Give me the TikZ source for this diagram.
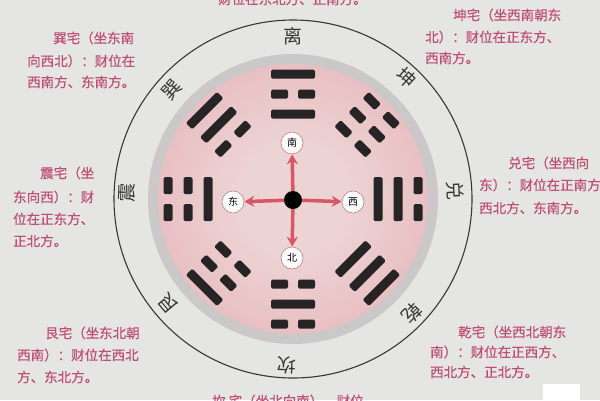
\documentclass[tikz,border=0pt]{standalone}
\usepackage{fontspec}
\newfontfamily\cjk{Noto Sans CJK SC}
\newfontfamily\cjkm[FakeBold=0.35]{Noto Sans CJK SC}
\usetikzlibrary{arrows.meta}
\definecolor{bgcol}{RGB}{229,229,227}
\definecolor{anncol}{RGB}{190,78,118}
\definecolor{ringgray}{RGB}{202,200,200}
\definecolor{pinkin}{RGB}{237,212,212}
\definecolor{pinkmid}{RGB}{230,182,187}
\definecolor{pinkout}{RGB}{222,152,162}
\definecolor{arrowcol}{RGB}{214,88,100}
\definecolor{barcol}{RGB}{38,36,36}
\definecolor{linecol}{RGB}{55,55,55}
\definecolor{dircirc}{RGB}{195,125,125}
\pgfdeclareradialshading{pinkdisk}{\pgfpoint{0bp}{0bp}}{color(0bp)=(pinkin); color(10bp)=(pinkin); color(32bp)=(pinkmid); color(50bp)=(pinkout)}
\newcommand{\mybar}[2]{%
  \ifnum#2=1
    \fill[barcol,rounded corners=1.5pt] (#1-4.5,-22) rectangle (#1+4.5,22);
  \else
    \fill[barcol,rounded corners=1.5pt] (#1-4.5,-22) rectangle (#1+4.5,-5);
    \fill[barcol,rounded corners=1.5pt] (#1-4.5,5) rectangle (#1+4.5,22);
  \fi}
\newcommand{\mytrigram}[4]{%
  \begin{scope}[shift={(293,199)},rotate=#1]
    \mybar{85}{#2}\mybar{105}{#3}\mybar{125}{#4}
  \end{scope}}
\tikzset{
  ann/.style={anchor=west,inner sep=0pt,text=anncol,font=\cjkm\fontsize{13.5}{16}\selectfont},
  gua/.style={inner sep=0pt,text=linecol,font=\cjk\fontsize{19}{22}\selectfont},
  dirnode/.style={circle,draw=dircirc,line width=0.6pt,fill=white,minimum size=22pt,inner sep=0pt,font=\cjk\fontsize{10}{12}\selectfont},
  hub/.style={circle,fill=black,minimum size=18pt,inner sep=0pt},
  arr/.style={draw=arrowcol,line width=3.5pt,-{Stealth[length=10pt,width=11pt]}}
}
\begin{document}
\begin{tikzpicture}[x=1pt,y=-1pt]
\useasboundingbox (0,0) rectangle (600,400);
\fill[bgcol] (0,0) rectangle (600,400);
\fill[white] (543,384) rectangle (580,400);
\coordinate (C) at (293,199);
% outer circle
\draw[linecol,line width=1.1pt] (C) circle[radius=179pt];
% grey ring and pink disk
\fill[ringgray] (C) circle[radius=145pt];
\shade[shading=pinkdisk] (C) circle[radius=135pt];
% trigrams (inner, middle, outer; 1 = solid)
\mytrigram{90}{1}{0}{1}
\mytrigram{45}{0}{0}{0}
\mytrigram{0}{1}{1}{0}
\mytrigram{-45}{1}{1}{1}
\mytrigram{-90}{0}{1}{0}
\mytrigram{-135}{0}{0}{1}
\mytrigram{180}{1}{0}{0}
\mytrigram{135}{0}{1}{1}
% compass
\node[hub] (ctr) at (293,200) {};
\node[dirnode] (nS) at (292,143) {南};
\node[dirnode] (nE) at (233,202) {东};
\node[dirnode] (nW) at (353,202) {西};
\node[dirnode] (nN) at (292,258) {北};
\draw[arr] (ctr) -- (nS);
\draw[arr] (ctr) -- (nE);
\draw[arr] (ctr) -- (nW);
\draw[arr] (ctr) -- (nN);
% ring labels
\path (C) ++(90:163pt) node[gua,rotate=0] (gLi) {离};
\path (C) ++(47:166pt) node[gua,rotate=-43] (gKun) {坤};
\path (C) ++(3:162pt) node[gua,rotate=-87] (gDui) {兑};
\path (C) ++(-44:165pt) node[gua,rotate=-134] (gQian) {乾};
\path (C) ++(-92:166pt) node[gua,rotate=178] (gKan) {坎};
\path (C) ++(-140:163pt) node[gua,rotate=130] (gGen) {艮};
\path (C) ++(178:166pt) node[gua,rotate=88] (gZhen) {震};
\path (C) ++(138:163pt) node[gua,rotate=48] (gXun) {巽};
% annotations
\node[ann] (tTop) at (218,-1) {财位在东北方、正南方。};
\node[ann] (xa) at (53,38) {巽宅（坐东南};
\node[ann] (xb) at (27,61) {向西北）：财位在};
\node[ann] (xc) at (27,82) {西南方、东南方。};
\node[ann] (ka) at (453,15) {坤宅（坐西南朝东};
\node[ann] (kb) at (425,37) {北）：财位在正东方、};
\node[ann] (kc) at (425,58) {西南方。};
\node[ann] (za) at (40,173) {震宅（坐};
\node[ann] (zb) at (13,197) {东向西）：财};
\node[ann] (zc) at (13,219) {位在正东方、};
\node[ann] (zd) at (13,241) {正北方。};
\node[ann] (da) at (508,163) {兑宅（坐西向};
\node[ann] (db) at (479,185) {东）：财位在正南方};
\node[ann] (dc) at (479,208) {西北方、东南方。};
\node[ann] (ga) at (45,333) {艮宅（坐东北朝};
\node[ann] (gb) at (17,355) {西南）：财位在西北};
\node[ann] (gc) at (17,377) {方、东北方。};
\node[ann] (qa) at (458,332) {乾宅（坐西北朝东};
\node[ann] (qb) at (430,352) {南）：财位在正西方、};
\node[ann] (qc) at (430,372) {西北方、正北方。};
\node[ann] (tBot) at (212,401) {坎\ 宅（坐北向南），财位};
\end{tikzpicture}
\end{document}
